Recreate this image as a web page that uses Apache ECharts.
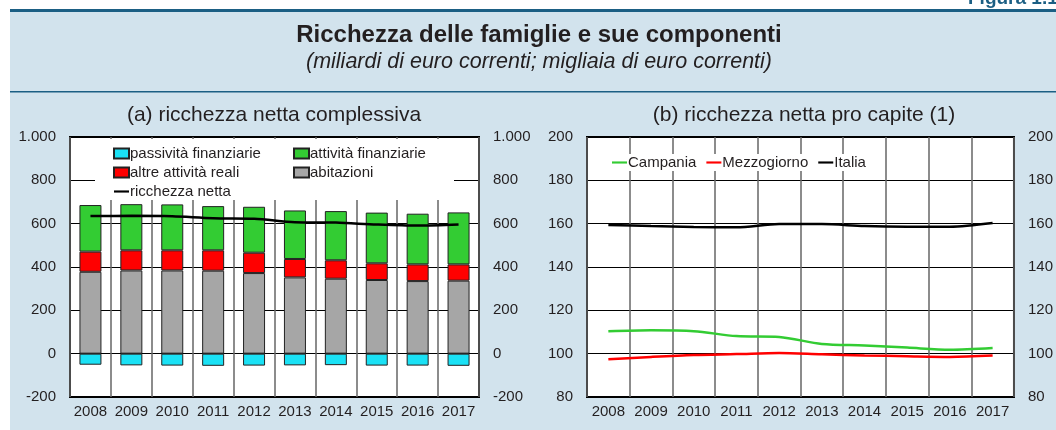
<!DOCTYPE html>
<html>
<head>
<meta charset="utf-8">
<title>Ricchezza delle famiglie e sue componenti</title>
<script src="https://cdn.jsdelivr.net/npm/echarts@6/dist/echarts.min.js"></script>
<style>
  html, body { margin: 0; padding: 0; background: #fff; }
  #chart { width: 1056px; height: 430px; }
</style>
</head>
<body>
<div id="chart"></div>
<script>
// dati
const years = ['2008', '2009', '2010', '2011', '2012', '2013', '2014', '2015', '2016', '2017'];
const passivita = [-51, -54, -55, -56, -55, -54, -53, -55, -55, -56];
const abitazioni = [378, 384, 384, 383, 372, 352, 346, 340, 335, 337];
const altreReali = [93, 93, 93, 94, 94, 85, 85, 77, 77, 75];
const attFinanziarie = [215, 213, 212, 204, 212, 224, 227, 234, 234, 240];
const ricchezzaNetta = [635, 636, 634, 625, 623, 607, 605, 596, 591, 596];

const campania = [110.3, 110.8, 110.4, 108.1, 107.7, 104.5, 103.8, 102.8, 101.8, 102.6];
const mezzogiorno = [97.4, 98.5, 99.4, 99.8, 100.3, 99.7, 99.2, 98.8, 98.5, 99.1];
const italia = [159.4, 158.9, 158.5, 158.3, 159.8, 159.8, 158.9, 158.6, 158.6, 160.3];

const ticksA = [-200, 0, 200, 400, 600, 800, 1000];
const ticksB = [80, 100, 120, 140, 160, 180, 200];

const font = "'Liberation Sans', Arial, sans-serif";
const dark = '#231f20';
const teal = '#1b5f84';
const lineIcon = 'path://M0,0 H14 V2 H0 Z';

function fmtIt(v) {
  // separatore migliaia col punto
  return String(v).replace(/\B(?=(\d{3})+(?!\d))/g, '.');
}

let myChart = echarts.init(document.getElementById('chart'));

const labelStyle = { color: dark, fontSize: 15, fontFamily: font };

function yAxisFor(gridIndex, ticks, pos) {
  return {
    type: 'value',
    gridIndex: gridIndex,
    position: pos,
    min: ticks[0],
    max: ticks[ticks.length - 1],
    interval: ticks[1] - ticks[0],
    axisLine: { show: false },
    axisTick: { show: false },
    axisLabel: Object.assign({ margin: 14, formatter: fmtIt }, labelStyle),
    splitLine: { show: pos === 'left', lineStyle: { color: '#000', width: 1 } },
  };
}

function xAxisFor(gridIndex) {
  return {
    type: 'category',
    gridIndex: gridIndex,
    data: years,
    axisLine: { show: false },
    axisTick: { show: false, interval: 0 },
    axisLabel: Object.assign({ margin: 7, interval: 0 }, labelStyle),
    splitLine: { show: true, interval: 0, lineStyle: { color: '#666', width: 1.5 } },
  };
}

const barBorder = { borderColor: '#222', borderWidth: 1 };
const legendText = { color: dark, fontSize: 15, padding: [0, 0, 0, -4] };

myChart.setOption({
  animation: false,
  textStyle: { fontFamily: font },
  graphic: [
    { type: 'rect', shape: { x: 10, y: 10, width: 1046, height: 420 }, style: { fill: '#d2e3ed' }, z: -10 },
    { type: 'rect', shape: { x: 10, y: 9, width: 1046, height: 3 }, style: { fill: teal }, z: -9 },
    { type: 'rect', shape: { x: 10, y: 91, width: 1046, height: 1.5 }, style: { fill: teal }, z: -9 },
    { type: 'text', x: 968, y: 8, style: { text: 'Figura 1.1', font: 'bold 19px ' + font, fill: teal, align: 'left', verticalAlign: 'bottom' }, z: -8 },
    { type: 'text', x: 539, y: 35, style: { text: 'Ricchezza delle famiglie e sue componenti', font: 'bold 24px ' + font, fill: dark, align: 'center', verticalAlign: 'middle' } },
    { type: 'text', x: 539, y: 62, style: { text: '(miliardi di euro correnti; migliaia di euro correnti)', font: 'italic 21.5px ' + font, fill: dark, align: 'center', verticalAlign: 'middle' } },
    { type: 'text', x: 274, y: 115, style: { text: '(a) ricchezza netta complessiva', font: '21px ' + font, fill: dark, align: 'center', verticalAlign: 'middle' } },
    { type: 'text', x: 804, y: 115, style: { text: '(b) ricchezza netta pro capite (1)', font: '21px ' + font, fill: dark, align: 'center', verticalAlign: 'middle' } },
    // fondo bianco della legenda (a)
    { type: 'rect', shape: { x: 95, y: 139, width: 359, height: 61 }, style: { fill: '#fff' }, z: 1 },
  ],
  legend: [
    {
      left: 108, top: 141, orient: 'vertical', itemGap: 4,
      itemWidth: 15, itemHeight: 10,
      textStyle: legendText,
      data: [
        { name: 'passività finanziarie', icon: 'rect' },
        { name: 'altre attività reali', icon: 'rect' },
        { name: 'ricchezza netta', icon: lineIcon },
      ],
    },
    {
      left: 288, top: 141, orient: 'vertical', itemGap: 4,
      itemWidth: 15, itemHeight: 10,
      textStyle: legendText,
      data: [
        { name: 'attività finanziarie', icon: 'rect' },
        { name: 'abitazioni', icon: 'rect' },
      ],
    },
    {
      left: 609, top: 154, orient: 'horizontal', itemGap: 10,
      itemWidth: 15, itemHeight: 10,
      backgroundColor: '#fff', padding: [1, 3],
      textStyle: legendText,
      data: [
        { name: 'Campania', icon: lineIcon },
        { name: 'Mezzogiorno', icon: lineIcon },
        { name: 'Italia', icon: lineIcon },
      ],
    },
  ],
  grid: [
    { left: 70, top: 137, width: 409, height: 260, show: true, backgroundColor: '#fff', borderColor: '#000', borderWidth: 2 },
    { left: 587, top: 137, width: 434, height: 260, show: true, backgroundColor: '#fff', borderColor: '#000', borderWidth: 2 },
  ],
  xAxis: [xAxisFor(0), xAxisFor(1)],
  yAxis: [
    yAxisFor(0, ticksA, 'left'),
    yAxisFor(0, ticksA, 'right'),
    yAxisFor(1, ticksB, 'left'),
    yAxisFor(1, ticksB, 'right'),
  ],
  series: [
    {
      name: 'passività finanziarie', type: 'bar', stack: 'a', xAxisIndex: 0, yAxisIndex: 0,
      data: passivita, barWidth: 22, itemStyle: Object.assign({ color: '#1ae1f5' }, barBorder),
    },
    {
      name: 'abitazioni', type: 'bar', stack: 'a', xAxisIndex: 0, yAxisIndex: 0,
      data: abitazioni, barWidth: 22, itemStyle: Object.assign({ color: '#a6a6a6' }, barBorder),
    },
    {
      name: 'altre attività reali', type: 'bar', stack: 'a', xAxisIndex: 0, yAxisIndex: 0,
      data: altreReali, barWidth: 22, itemStyle: Object.assign({ color: '#ff0000' }, barBorder),
    },
    {
      name: 'attività finanziarie', type: 'bar', stack: 'a', xAxisIndex: 0, yAxisIndex: 0,
      data: attFinanziarie, barWidth: 22, itemStyle: Object.assign({ color: '#33cc33' }, barBorder),
    },
    {
      name: 'ricchezza netta', type: 'line', xAxisIndex: 0, yAxisIndex: 0, z: 3,
      data: ricchezzaNetta, symbol: 'none', smooth: 0.3,
      lineStyle: { color: '#000', width: 2.5 }, itemStyle: { color: '#000' },
    },
    {
      name: 'Campania', type: 'line', xAxisIndex: 1, yAxisIndex: 2,
      data: campania, symbol: 'none', smooth: 0.3,
      lineStyle: { color: '#33cc33', width: 2.5 }, itemStyle: { color: '#33cc33' },
    },
    {
      name: 'Mezzogiorno', type: 'line', xAxisIndex: 1, yAxisIndex: 2,
      data: mezzogiorno, symbol: 'none', smooth: 0.3,
      lineStyle: { color: '#ff0000', width: 2.5 }, itemStyle: { color: '#ff0000' },
    },
    {
      name: 'Italia', type: 'line', xAxisIndex: 1, yAxisIndex: 2,
      data: italia, symbol: 'none', smooth: 0.3,
      lineStyle: { color: '#000', width: 2.5 }, itemStyle: { color: '#000' },
    },
  ],
});
</script>
</body>
</html>
